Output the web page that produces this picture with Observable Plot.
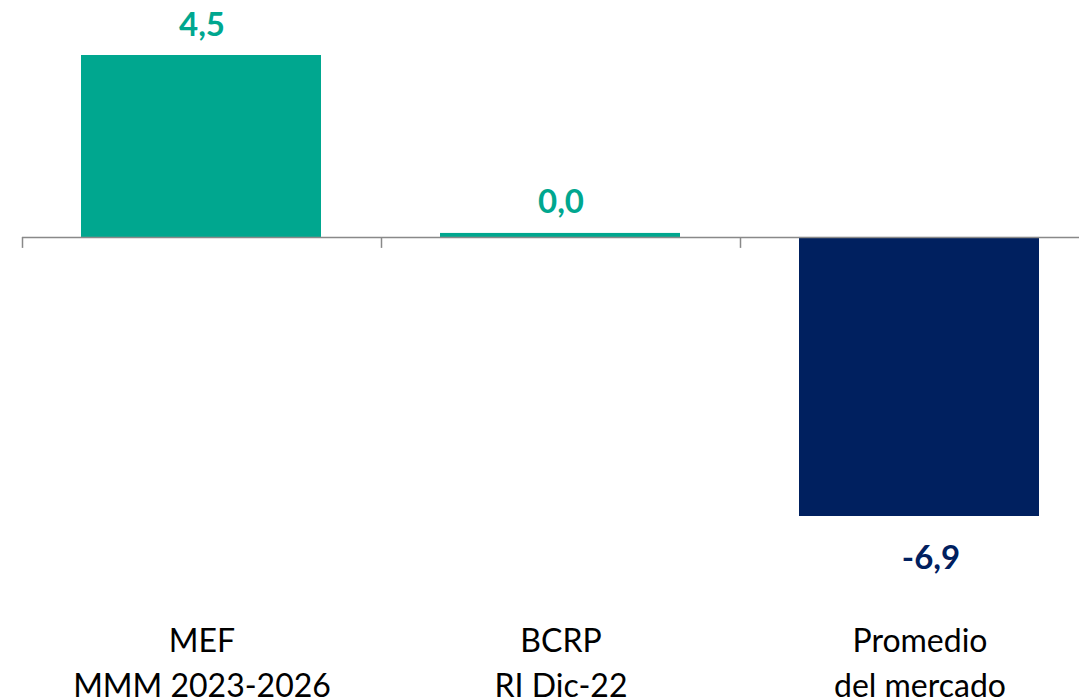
<!DOCTYPE html>
<html>
<head>
<meta charset="utf-8">
<script src="https://cdn.jsdelivr.net/npm/d3@7"></script>
<script src="https://cdn.jsdelivr.net/npm/@observablehq/plot@0.6"></script>
<style>
  html, body { margin: 0; padding: 0; background: #ffffff; }
  #chart svg { display: block; }
</style>
</head>
<body>
<div id="chart"></div>
<script>
const categories = ["MEF\nMMM 2023-2026", "BCRP\nRI Dic-22", "Promedio\ndel mercado"];
const values = [4.5, 0.1, -6.9];
const valueLabels = ["4,5", "0,0", "-6,9"];
const barColors = ["#00A78F", "#00A78F", "#00205F"];

const data = categories.map((c, i) => ({
  category: c, value: values[i], label: valueLabels[i], color: barColors[i]
}));
const positive = data.filter(d => d.value >= 0);
const negative = data.filter(d => d.value < 0);

const chart = Plot.plot({
  width: 1079,
  height: 700,
  marginLeft: 22,
  marginRight: -20,
  marginTop: 55,
  marginBottom: 184,
  x: { domain: categories, padding: 0, axis: null },
  y: { domain: [-6.9, 4.5], axis: null },
  color: { type: "identity" },
  style: { fontFamily: "Lato, 'Open Sans', sans-serif", background: "#ffffff", overflow: "hidden" },
  marks: [
    Plot.barY(data, { x: "category", y: "value", fill: "color", insetLeft: 59, insetRight: 60 }),
    Plot.ruleY([0], { stroke: "#898989", strokeWidth: 1.5 }),
    Plot.ruleX(data, { x: "category", dx: -179.5, y1: 0, y2: -0.27, stroke: "#898989", strokeWidth: 1.5 }),
    Plot.text(positive, { x: "category", y: "value", text: "label", fill: "color", fontSize: 33, fontWeight: 700, lineAnchor: "bottom", dy: -20 }),
    Plot.text(negative, { x: "category", y: "value", text: "label", fill: "color", fontSize: 33, fontWeight: 700, lineAnchor: "top", dy: 29, dx: 11 }),
    Plot.text(data, { x: "category", text: "category", frameAnchor: "bottom", lineAnchor: "top", dy: 104, fontSize: 32, lineHeight: 1.4, fill: "#000000" })
  ]
});
document.getElementById("chart").appendChild(chart);
</script>
</body>
</html>
